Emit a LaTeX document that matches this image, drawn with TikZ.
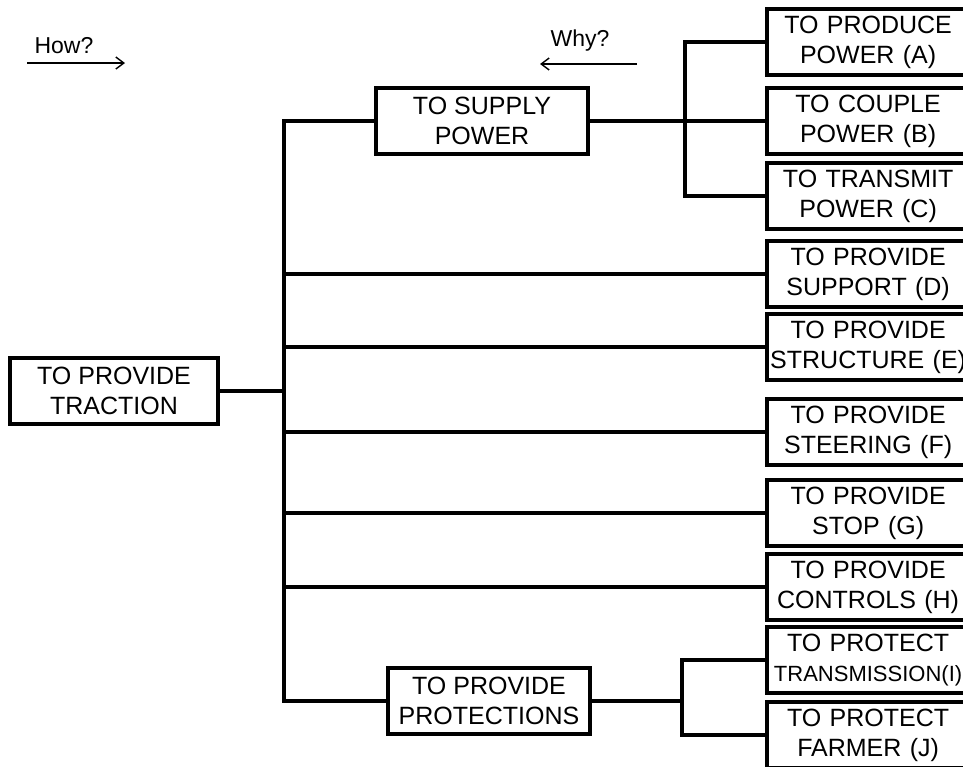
\documentclass[tikz,border=0pt]{standalone}
\usepackage{fontspec}
\setmainfont{Liberation Sans}
\usetikzlibrary{arrows.meta}

\tikzset{
  funcbox/.style={draw, line width=4.2pt, fill=white, align=center,
    inner sep=0pt, minimum height=66pt, font=\fontsize{25}{30}\selectfont},
  leafbox/.style={funcbox, anchor=west, text width=202pt, minimum width=202pt},
  link/.style={line width=3.6pt},
  hint/.style={anchor=base west, font=\fontsize{23}{28}\selectfont},
  hintarrow/.style={-{Straight Barb[length=8pt,width=12pt]}, line width=1.4pt},
}

\begin{document}
\begin{tikzpicture}[x=1pt,y=-1pt]
  \useasboundingbox (0,0) rectangle (963,766);
  % how / why hints
  \node[hint] (how) at (31,53) {How?};
  \coordinate (howa) at (27,63);
  \coordinate (howb) at (125,63);
  \draw[hintarrow] (howa) -- (howb);
  \node[hint] (why) at (547,46) {Why?};
  \coordinate (whya) at (637,64);
  \coordinate (whyb) at (540,64);
  \draw[hintarrow] (whya) -- (whyb);
  % main boxes
  \node[funcbox,minimum width=208pt] (traction) at (114,391) {TO PROVIDE\\TRACTION};
  \node[funcbox,minimum width=212pt] (supply) at (482,121) {TO SUPPLY\\POWER};
  \node[funcbox,minimum width=202pt] (protect) at (489,701) {TO PROVIDE\\PROTECTIONS};
  % leaves
  \node[leafbox] (a) at (765,42) {TO PRODUCE\\POWER~(A)};
  \node[leafbox] (b) at (765,121) {TO COUPLE\\POWER~(B)};
  \node[leafbox] (c) at (765,196) {TO TRANSMIT\\POWER~(C)};
  \node[leafbox] (d) at (765,274) {TO PROVIDE\\SUPPORT~(D)};
  \node[leafbox] (e) at (765,347) {TO PROVIDE\\\mbox{STRUCTURE~(E)}};
  \node[leafbox] (f) at (765,432) {TO PROVIDE\\STEERING~(F)};
  \node[leafbox] (g) at (765,513) {TO PROVIDE\\STOP~(G)};
  \node[leafbox] (h) at (765,587) {TO PROVIDE\\CONTROLS~(H)};
  \node[leafbox] (i) at (765,660) {TO PROTECT\\{\fontsize{22}{30}\selectfont\mbox{TRANSMISSION(I)}}};
  \node[leafbox] (j) at (765,735) {TO PROTECT\\FARMER~(J)};
  % connectors
  \coordinate (tx) at (284,0);
  \coordinate (sx) at (685,0);
  \coordinate (px) at (682,0);
  \draw[link] (supply.west) -| (tx |- protect.west) -- (protect.west);
  \draw[link] (traction.east) -- (traction.east -| tx);
  \foreach \leaf in {d,e,f,g,h}
    \draw[link] (tx |- \leaf.west) -- (\leaf.west);
  \draw[link] (supply.east) -- (b.west);
  \draw[link] (a.west) -| (sx |- c.west) -- (c.west);
  \draw[link] (protect.east) -- (protect.east -| px);
  \draw[link] (i.west) -| (px |- j.west) -- (j.west);
\end{tikzpicture}
\end{document}
